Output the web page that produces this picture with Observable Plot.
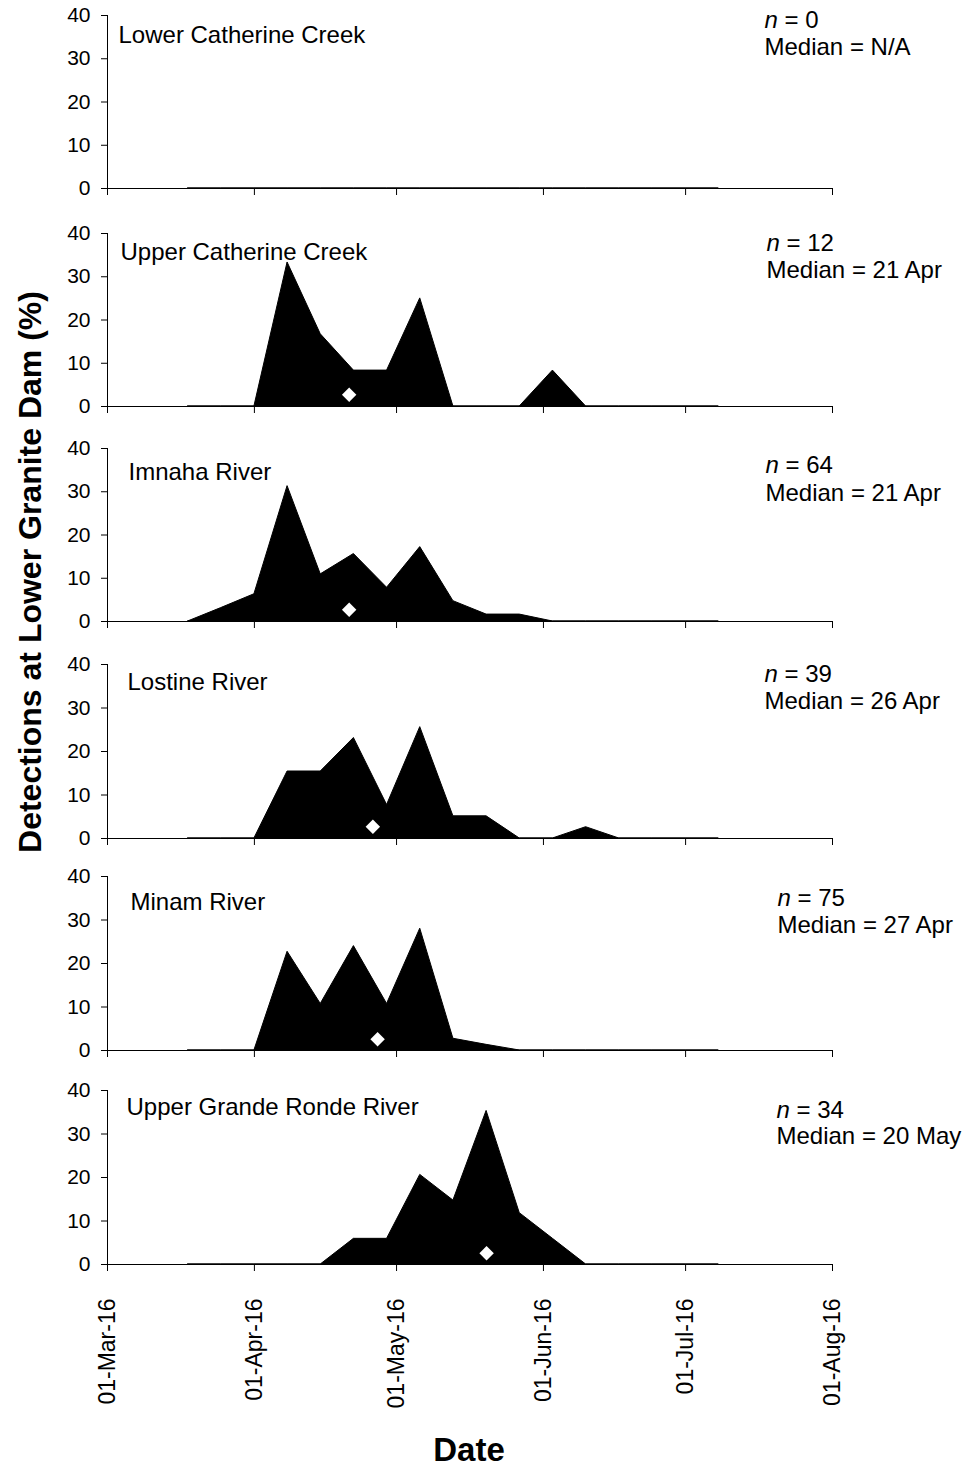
<!DOCTYPE html>
<html>
<head>
<meta charset="utf-8">
<script src="https://cdn.jsdelivr.net/npm/d3@7"></script>
<script src="https://cdn.jsdelivr.net/npm/@observablehq/plot@0.6"></script>
<style>
  body { margin: 0; background: #fff; }
  #chart { position: relative; width: 966px; height: 1469px; font-family: "Liberation Sans", Arial, sans-serif; color: #000; }
  .panel { position: absolute; left: 0; }
  #ytitle { position: absolute; left: 30px; top: 572px; transform: translate(-50%, -50%) rotate(-90deg); white-space: nowrap; font-weight: bold; font-size: 32px; }
  #xtitle { position: absolute; left: 469px; top: 1450px; transform: translate(-50%, -50%); white-space: nowrap; font-weight: bold; font-size: 33px; }
</style>
</head>
<body>
<div id="chart">
  <div id="ytitle">Detections at Lower Granite Dam (%)</div>
  <div id="xtitle">Date</div>
</div>
<script>
// ---------- data ----------
const sites = ["Lower Catherine Creek", "Upper Catherine Creek", "Imnaha River", "Lostine River", "Minam River", "Upper Grande Ronde River"];
const weeks = ["2016-03-18","2016-03-25","2016-04-01","2016-04-08","2016-04-15","2016-04-22","2016-04-29","2016-05-06","2016-05-13","2016-05-20","2016-05-27","2016-06-03","2016-06-10","2016-06-17","2016-06-24","2016-07-01","2016-07-08"];
const lowerCatherine = [0,0,0,0,0,0,0,0,0,0,0,0,0,0,0,0,0];
const upperCatherine = [0,0,0,33.3,16.7,8.3,8.3,25.0,0,0,0,8.3,0,0,0,0,0];
const imnaha         = [0,3.1,6.3,31.3,10.9,15.6,7.8,17.2,4.7,1.6,1.6,0,0,0,0,0,0];
const lostine        = [0,0,0,15.4,15.4,23.1,7.7,25.6,5.1,5.1,0,0,2.6,0,0,0,0];
const minam          = [0,0,0,22.7,10.7,24.0,10.7,28.0,2.7,1.3,0,0,0,0,0,0,0];
const grandeRonde    = [0,0,0,0,0,5.9,5.9,20.6,14.7,35.3,11.8,5.9,0,0,0,0,0];
const nFish = [0, 12, 64, 39, 75, 34];
const medianLabels = ["N/A", "21 Apr", "21 Apr", "26 Apr", "27 Apr", "20 May"];
const medianDates = [null, "2016-04-21", "2016-04-21", "2016-04-26", "2016-04-27", "2016-05-20"];
const medianMarkerY = [null, 2.7, 2.7, 2.7, 2.6, 2.6];
const xTicks = ["2016-03-01","2016-04-01","2016-05-01","2016-06-01","2016-07-01","2016-08-01"];
const yTicks = [0, 10, 20, 30, 40];
const xDomain = ["2016-03-01", "2016-08-01"];
const yDomain = [0, 40];

// ---------- layout ----------
const seriesList = [lowerCatherine, upperCatherine, imnaha, lostine, minam, grandeRonde];
const frameTop = [15, 233, 448, 664, 876, 1090];
const frameBottom = [188, 406, 621, 838, 1050, 1264];
const nameLeft = [118, 120, 128, 127, 130, 126];
const nameCy = [35, 252, 472, 682, 902, 1107];
const statLeft = [764, 766, 765, 764, 777, 776];
const nCy = [20, 243, 465, 674, 898, 1110];
const medCy = [47, 270, 493, 701, 925, 1136];
const frameLeft = 107, frameRight = 832;
const padTop = 15;

const parse = d3.utcParse("%Y-%m-%d");
const fmt = d3.utcFormat("%d-%b-%y");
const chart = document.getElementById("chart");

sites.forEach((site, i) => {
  const last = i === sites.length - 1;
  const data = weeks.map((w, k) => ({date: parse(w), value: seriesList[i][k]}));
  const padBottom = last ? 150 : 12;
  const h = frameBottom[i] - frameTop[i];
  const txt = (s, left, cy) => Plot.text([s], {frameAnchor: "top-left", dx: left - frameLeft, dy: cy - frameTop[i], textAnchor: "start", lineAnchor: "middle", fontSize: 24, fill: "black"});
  const marks = [
    Plot.areaY(data, {x: "date", y: "value", fill: "black", stroke: "black", strokeWidth: 1}),
    Plot.ruleY([0], {stroke: "black", strokeWidth: 1}),
    Plot.ruleX([parse(xDomain[0])], {stroke: "black", strokeWidth: 1}),
    txt(site, nameLeft[i], nameCy[i]),
    txt("n = " + nFish[i], statLeft[i], nCy[i]),
    txt("Median = " + medianLabels[i], statLeft[i], medCy[i])
  ];
  if (medianDates[i]) {
    marks.push(Plot.dot([{date: parse(medianDates[i]), value: medianMarkerY[i]}], {x: "date", y: "value", symbol: "diamond2", r: 6.5, fill: "white", stroke: "none"}));
  }
  const svg = Plot.plot({
    width: 966,
    height: padTop + h + padBottom,
    marginTop: padTop,
    marginBottom: padBottom,
    marginLeft: frameLeft,
    marginRight: 966 - frameRight,
    style: {fontFamily: "'Liberation Sans', Arial, sans-serif", fontSize: "21px", color: "black", background: "transparent", overflow: "visible"},
    x: {type: "utc", domain: xDomain.map(parse), ticks: xTicks.map(parse), tickSize: 7, tickPadding: last ? 27 : 3,
        tickFormat: last ? fmt : () => "", tickRotate: last ? -90 : 0, label: null},
    y: {domain: yDomain, ticks: yTicks, tickSize: 6, tickPadding: 11, label: null},
    marks
  });
  svg.classList.add("panel");
  svg.style.top = (frameTop[i] - padTop) + "px";
  svg.style.position = "absolute";
  svg.style.left = "0px";
  // larger rotated date labels
  d3.select(svg).selectAll('g[aria-label="x-axis tick label"]').attr("font-size", 23);
  // italic "n"
  d3.select(svg).selectAll("text").each(function() {
    const t = this.textContent;
    if (t.startsWith("n = ")) {
      const sel = d3.select(this);
      sel.text(null);
      sel.append("tspan").attr("font-style", "italic").text("n");
      sel.append("tspan").text(t.slice(1));
    }
  });
  chart.appendChild(svg);
});
</script>
</body>
</html>
